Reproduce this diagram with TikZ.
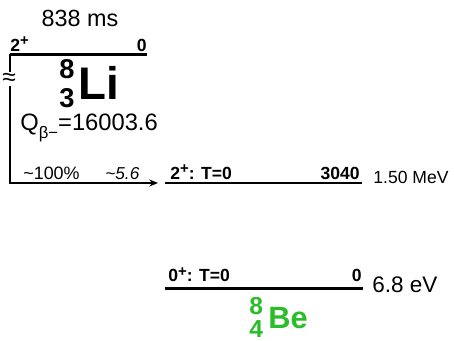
\documentclass[tikz,border=0pt]{standalone}
\usepackage{fontspec}
\setmainfont{Liberation Sans}
\usetikzlibrary{arrows.meta,positioning}
\definecolor{begreen}{rgb}{0.16,0.74,0.16}
% mass number up, charge number down
\newcommand{\isot}[4]{\makebox[0pt][l]{\raisebox{#3}{#1}}\raisebox{-#4}{#2}}
% spin with raised parity
\newcommand{\spin}[2]{#1\raisebox{0.32em}{\fontsize{8.5}{8.5}\selectfont #2}}
\tikzset{
  lvl/.style={line width=1.6pt},
  lvlthin/.style={line width=0.7pt},
  lbl/.style={font=\fontsize{10}{11}\selectfont\bfseries, inner sep=0pt},
  txt/.style={inner sep=0pt},
  decay/.style={line width=0.6pt, -{Stealth[length=5pt,width=4pt]}}
}
\begin{document}
\begin{tikzpicture}[x=0.02cm,y=-0.02cm]
\useasboundingbox (0,0) rectangle (454,341);
% 8Li ground state
\coordinate (liL) at (10,54.5);
\coordinate (liR) at (147,54.5);
\draw[lvl] (liL) -- (liR);
\node[lbl, anchor=base west] (lispin) at (10,51.5) {\spin{2}{+}};
\node[lbl, anchor=base east] (lien) at (147,51.5) {0};
\node[txt, anchor=base, font=\fontsize{13.3}{15}\selectfont] (lihl) at (80,27) {838 ms};
\node[txt, anchor=base west, font=\bfseries] (linuc) at (59,100)
  {{\fontsize{15.5}{15.5}\selectfont\isot{8}{3}{12.5pt}{4.5pt}}\hspace{2.5pt}{\fontsize{26}{26}\selectfont Li}};
\node[txt, anchor=base west, font=\fontsize{13.5}{15}\selectfont] (liq) at (20,131)
  {Q\raisebox{-0.33em}{\fontsize{9.5}{9.5}\selectfont β−}=16003.6};
% 8Be levels
\coordinate (beaL) at (165,183);
\coordinate (beaR) at (362,183);
\draw[lvlthin] (beaL) -- (beaR);
\node[lbl, anchor=base west] (beaspin) at (170,179.5) {\spin{2}{+}: T=0};
\node[lbl, anchor=base east] (beaen) at (360,179.5) {3040};
\node[txt, anchor=base west, font=\fontsize{10}{12}\selectfont] (beae) at (373,184) {1.50 MeV};
\coordinate (begL) at (165,288.5);
\coordinate (begR) at (363,288.5);
\draw[lvl] (begL) -- (begR);
\node[lbl, anchor=base west] (begspin) at (168,282) {\spin{0}{+}: T=0};
\node[lbl, anchor=base east] (begen) at (362,282) {0};
\node[txt, anchor=base west, font=\fontsize{12.8}{14}\selectfont] (bege) at (372,293) {6.8 eV};
\node[txt, anchor=base west, font=\bfseries, text=begreen] (benuc) at (249,329)
  {{\fontsize{14}{14}\selectfont\isot{8}{4}{8pt}{5pt}}\hspace{3pt}{\fontsize{17.5}{17.5}\selectfont Be}};
% beta decay
\draw[decay, shorten >=1.4mm] (liL) |- (beaL);
\node[fill=white, inner sep=0.3pt, font=\fontsize{14}{14}\selectfont] (brk) at (9,79) {≈};
\node[txt, anchor=base west, font=\fontsize{10.2}{12}\selectfont] (br) at (23,180) {\textasciitilde100\%};
\node[txt, anchor=base west, font=\fontsize{9.8}{11}\selectfont\itshape] (lft) at (105,180) {\textasciitilde5.6};
\end{tikzpicture}
\end{document}
